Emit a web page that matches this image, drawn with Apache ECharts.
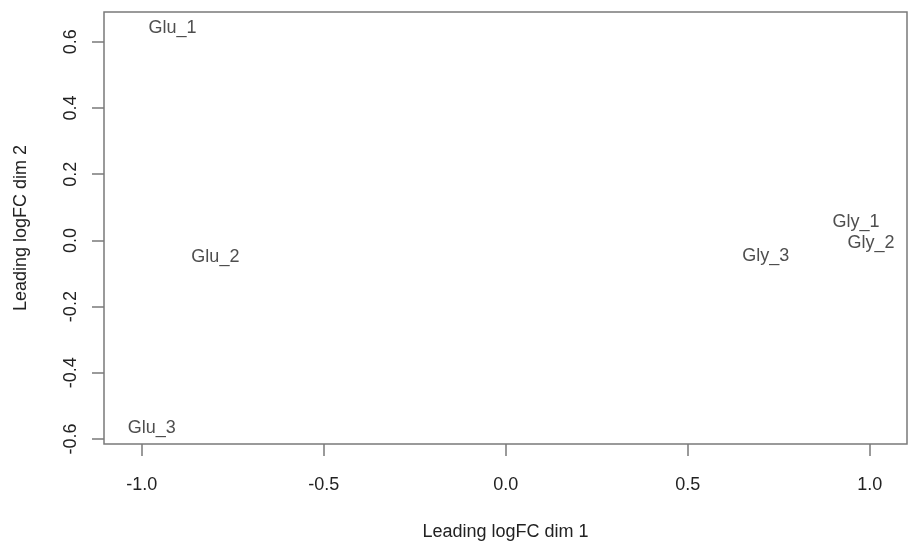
<!DOCTYPE html>
<html>
<head>
<meta charset="utf-8">
<script src="https://cdn.jsdelivr.net/npm/echarts@6/dist/echarts.min.js"></script>
<style>html,body{margin:0;padding:0;background:#fff;}#c{width:909px;height:546px;}</style>
</head>
<body>
<div id="c"></div>
<script>
const sampleNames = ['Glu_1', 'Glu_2', 'Glu_3', 'Gly_1', 'Gly_2', 'Gly_3'];
const dim1Values = [-0.916, -0.798, -0.973, 0.962, 1.003, 0.714];
const dim2Values = [0.641, -0.051, -0.566, 0.057, -0.0075, -0.047];
const xTickValues = [-1.0, -0.5, 0.0, 0.5, 1.0];
const yTickValues = [-0.6, -0.4, -0.2, 0.0, 0.2, 0.4, 0.6];
const xTitle = 'Leading logFC dim 1';
const yTitle = 'Leading logFC dim 2';

const textColor = '#222222';
const lineColor = '#7a7a7a';
const fontFamily = '"Liberation Sans", Arial, Helvetica, sans-serif';

const points = sampleNames.map((n, i) => ({ name: n, value: [dim1Values[i], dim2Values[i]] }));

const chart = echarts.init(document.getElementById('c'), null, { renderer: 'canvas' });
chart.setOption({
  animation: false,
  backgroundColor: '#fff',
  grid: {
    left: 104, right: 2, top: 12, bottom: 99,
    show: true, borderColor: lineColor, borderWidth: 1.5, backgroundColor: 'transparent'
  },
  xAxis: {
    type: 'value', min: -1.104, max: 1.102,
    splitLine: { show: false },
    axisLine: { show: false, onZero: false },
    axisTick: { show: true, inside: false, length: 12, lineStyle: { color: lineColor, width: 1.5 }, customValues: xTickValues },
    axisLabel: {
      show: true, margin: 32, color: textColor, fontSize: 18, fontFamily: fontFamily,
      customValues: xTickValues,
      formatter: v => v.toFixed(1)
    },
    name: xTitle, nameLocation: 'middle', nameGap: 79,
    nameTextStyle: { color: textColor, fontSize: 18, fontFamily: fontFamily }
  },
  yAxis: {
    type: 'value', min: -0.615, max: 0.69,
    splitLine: { show: false },
    axisLine: { show: false, onZero: false },
    axisTick: { show: true, inside: false, length: 12, lineStyle: { color: lineColor, width: 1.5 }, customValues: yTickValues },
    axisLabel: {
      show: true, margin: 24, rotate: 90, color: textColor, fontSize: 18, fontFamily: fontFamily,
      customValues: yTickValues,
      formatter: v => v.toFixed(1)
    },
    name: yTitle, nameLocation: 'middle', nameGap: 74, nameRotate: 90,
    nameTextStyle: { color: textColor, fontSize: 18, fontFamily: fontFamily }
  },
  series: [{
    type: 'scatter',
    data: points,
    symbolSize: 1,
    itemStyle: { color: 'rgba(0,0,0,0)' },
    label: {
      show: true, position: 'inside', formatter: p => p.name,
      color: textColor, fontSize: 18, fontFamily: fontFamily
    },
    emphasis: { disabled: true }
  }]
});
</script>
</body>
</html>
